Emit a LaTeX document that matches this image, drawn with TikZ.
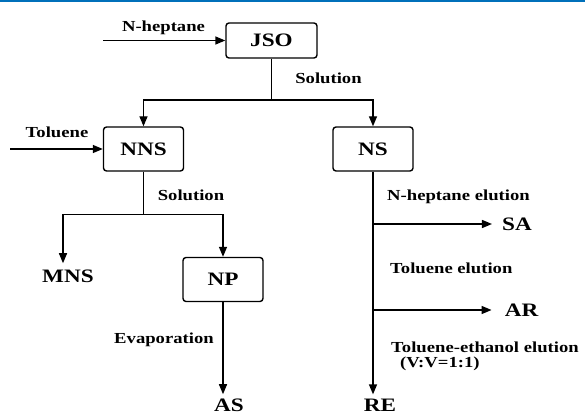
\documentclass[tikz,border=0pt]{standalone}
\usepackage{fontspec}
\setmainfont{Liberation Serif}[FakeStretch=1.22]
\usetikzlibrary{arrows.meta,calc}
\definecolor{bandeau}{RGB}{0,112,186}

\begin{document}
\begin{tikzpicture}[x=1pt,y=-1pt]
        \tikzstyle{etape} = [rectangle, rounded corners=3pt, minimum width=80pt, minimum height=44pt, text centered, draw=black, line width=1.4pt, font=\fontsize{19}{19}\selectfont\bfseries]
        \tikzstyle{produit} = [inner sep=4pt, font=\fontsize{19}{19}\selectfont\bfseries]
        \tikzstyle{operation} = [inner sep=0pt, font=\fontsize{15.3}{18}\selectfont\bfseries]
        \tikzstyle{trait} = [line width=1.4pt]
        \tikzstyle{fleche} = [line width=1.4pt, -{Triangle[length=10pt,width=8pt]}]
        \useasboundingbox (0,0) rectangle (585,414);
        \fill[bandeau] (0,0) rectangle (585,2.5);
        % boites
        \node (jso) [etape, minimum width=91pt, minimum height=35pt] at (271.5,40.5) {JSO};
        \node (nns) [etape] at (143.5,149) {NNS};
        \node (ns) [etape] at (373,149) {NS};
        \node (np) [etape] at (223,279.5) {NP};
        % produits
        \node (mns) [produit, anchor=base] at (68,282) {MNS};
        \node (as) [produit, anchor=base] at (229,411) {AS};
        \node (re) [produit, anchor=base] at (380,411) {RE};
        \node (sa) [produit] at (517,224) {SA};
        \node (ar) [produit] at (521.5,310) {AR};
        % operations
        \node (nheptane) [operation, anchor=base] at (163.5,32) {N-heptane};
        \node (solution_jso) [operation, anchor=base] at (328.5,84) {Solution};
        \node (toluene) [operation, anchor=base] at (57,138) {Toluene};
        \node (solution_nns) [operation, anchor=base] at (191,200) {Solution};
        \node (evaporation) [operation, anchor=base] at (164,343) {Evaporation};
        \node (elution_nheptane) [operation, anchor=base west] at (387,200) {N-heptane elution};
        \node (elution_toluene) [operation, anchor=base west] at (390,273) {Toluene elution};
        \node (elution_ethanol) [operation, anchor=base west] at (391,352) {Toluene-ethanol elution};
        \node (rapport) [operation, anchor=base west] at (400,367) {(V:V=1:1)};
        % liaisons
        \coordinate (nheptane_start) at (103,40.5);
        \coordinate (toluene_start) at (10,149);
        \coordinate (jso_branch) at ($(jso.south)+(0,41.5)$);
        \coordinate (nns_branch) at ($(nns.south)+(0,43)$);
        \draw[fleche] (nheptane_start) -- (jso.west);
        \draw[fleche] (toluene_start) -- (nns.west);
        \draw[trait] (jso.south) -- (jso_branch);
        \draw[fleche] (jso_branch) -| (nns.north);
        \draw[fleche] (jso_branch) -| (ns.north);
        \draw[trait] (nns.south) -- (nns_branch);
        \draw[fleche, shorten >=2pt] (nns_branch) -| ([xshift=-5pt]mns.north);
        \draw[fleche] (nns_branch) -| (np.north);
        \draw[fleche] (np.south) -- ([xshift=-6pt]as.north);
        \draw[fleche] (ns.south) -- ([xshift=-7pt]re.north);
        \draw[fleche, shorten >=6pt] (ns.south |- sa.west) -- (sa.west);
        \draw[fleche, shorten >=9pt] (ns.south |- ar.west) -- (ar.west);
\end{tikzpicture}
\end{document}
